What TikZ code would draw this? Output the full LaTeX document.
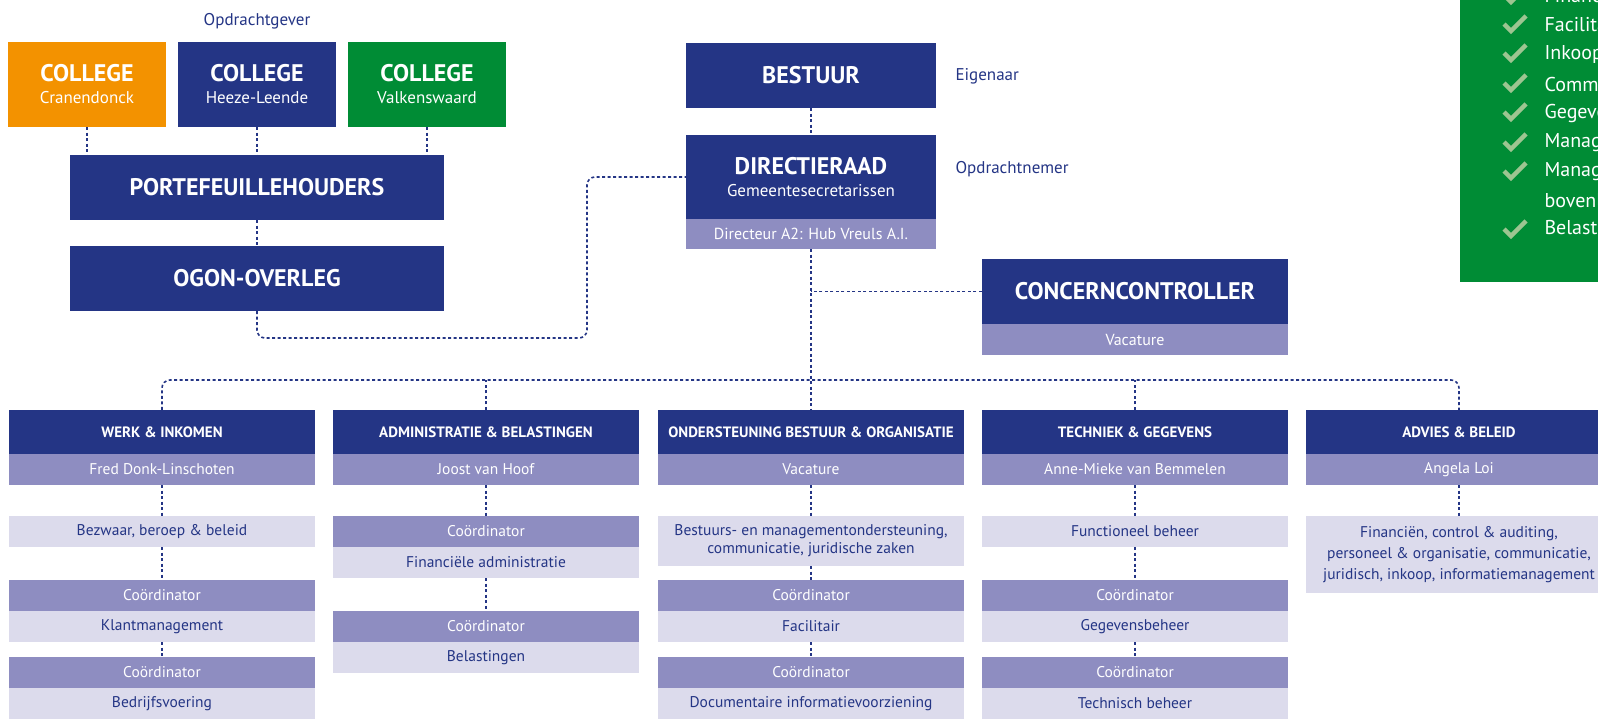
\documentclass[tikz,border=0pt]{standalone}
\usepackage{fontspec}
\setmainfont{PT Sans}
\usetikzlibrary{positioning}

\definecolor{navy}{HTML}{243585}
\definecolor{lilac}{HTML}{8E8DC1}
\definecolor{pale}{HTML}{DCDBEC}
\definecolor{oranje}{HTML}{F39200}
\definecolor{groen}{HTML}{008C35}
\definecolor{vink}{HTML}{9DC591}

\begin{document}
\begin{tikzpicture}[x=1pt,y=-1pt,
  big/.style={rectangle,inner sep=0pt,align=center,text=white,minimum height=65pt},
  bigfont/.style={font=\bfseries\fontsize{24}{26}\selectfont},
  twoline/.style={big,font=\fontsize{17}{22}\selectfont},
  side/.style={anchor=west,text=navy,font=\fontsize{17}{19}\selectfont},
  colbox/.style={rectangle,inner sep=0pt,align=center,minimum width=306pt},
  colhead/.style={colbox,fill=navy,text=white,minimum height=44pt,font=\bfseries\fontsize{15}{17}\selectfont},
  person/.style={colbox,fill=lilac,text=white,minimum height=31pt,font=\fontsize{15.5}{18}\selectfont},
  dept/.style={colbox,fill=pale,text=navy,minimum height=31pt,font=\fontsize{15.5}{18}\selectfont},
  link/.style={navy,line width=1.6pt,dash pattern=on 3pt off 2.5pt},
  vinkje/.pic={\draw[vink,line width=4.5pt] (-11,-1) -- (-4,6) -- (11,-9);},
  item/.style={anchor=west,text=white,font=\fontsize{20}{22}\selectfont}]
\useasboundingbox (0,0) rectangle (1598,718);
\clip (0,0) rectangle (1598,718);

% opdrachtgever
\node[text=navy,font=\fontsize{17}{19}\selectfont] (gever) at (257,21) {Opdrachtgever};
\node[twoline,fill=oranje,minimum width=158pt,minimum height=85pt] (cran) at (87,84.5)
  {{\bfseries\fontsize{24}{26}\selectfont COLLEGE}\\Cranendonck};
\node[twoline,fill=navy,minimum width=158pt,minimum height=85pt] (heeze) at (257,84.5)
  {{\bfseries\fontsize{24}{26}\selectfont COLLEGE}\\Heeze-Leende};
\node[twoline,fill=groen,minimum width=158pt,minimum height=85pt] (valk) at (427,84.5)
  {{\bfseries\fontsize{24}{26}\selectfont COLLEGE}\\Valkenswaard};
\node[big,bigfont,fill=navy,minimum width=374pt] (porte) at (257,187.5) {PORTEFEUILLEHOUDERS};
\node[big,bigfont,fill=navy,minimum width=374pt] (ogon) at (257,278.5) {OGON-OVERLEG};

% bestuur en directie
\node[big,bigfont,fill=navy,minimum width=250pt] (bestuur) at (811,75.5) {BESTUUR};
\node[twoline,fill=navy,minimum width=250pt,minimum height=84pt] (dir) at (811,177)
  {{\bfseries\fontsize{24}{26}\selectfont DIRECTIERAAD}\\Gemeentesecretarissen};
\node[person,minimum width=250pt,minimum height=30pt,font=\fontsize{16}{18}\selectfont] (dirname) at (811,234) {Directeur A2: Hub Vreuls A.I.};
\node[side] (eigenaar) at (952,76) {Eigenaar};
\node[side] (nemer) at (952,169) {Opdrachtnemer};
\node[big,bigfont,fill=navy,minimum width=306pt] (concern) at (1135,291.5) {CONCERNCONTROLLER};
\node[person,font=\fontsize{16}{18}\selectfont] (concernname) at (1135,339.5) {Vacature};

% groen kader
\fill[groen] (1460,-10) rectangle (1620,282);
\pic at (1515,-4) {vinkje};
\node[item] (l1) at (1541,-4) {Financiën};
\pic at (1515,25) {vinkje};
\node[item] (l2) at (1541,25) {Facilitair};
\pic at (1515,54) {vinkje};
\node[item] (l3) at (1541,54) {Inkoop};
\pic at (1515,84) {vinkje};
\node[item] (l4) at (1541,84) {Communicatie};
\pic at (1515,113) {vinkje};
\node[item] (l5) at (1541,113) {Gegevensbeheer};
\pic at (1515,143) {vinkje};
\node[item] (l6) at (1541,143) {Management};
\pic at (1515,172) {vinkje};
\node[item] (l7) at (1541,172) {Management};
\node[item] (l8) at (1541,201) {bovenlokaal};
\pic at (1515,230) {vinkje};
\node[item] (l9) at (1541,230) {Belastingen};

% werk en inkomen
\node[colhead] (wiHead) at (162,432) {WERK \& INKOMEN};
\node[person] (wiName) at (162,469.5) {Fred Donk-Linschoten};
\node[dept] (wiBez) at (162,531.5) {Bezwaar, beroep \& beleid};
\node[person] (wiCoA) at (162,595.5) {Coördinator};
\node[dept] (wiKlant) at (162,626.5) {Klantmanagement};
\node[person] (wiCoB) at (162,672.5) {Coördinator};
\node[dept] (wiBedr) at (162,703.5) {Bedrijfsvoering};

% administratie en belastingen
\node[colhead] (abHead) at (486,432) {ADMINISTRATIE \& BELASTINGEN};
\node[person] (abName) at (486,469.5) {Joost van Hoof};
\node[person] (abCoA) at (486,531.5) {Coördinator};
\node[dept] (abFin) at (486,562.5) {Financiële administratie};
\node[person] (abCoB) at (486,626.5) {Coördinator};
\node[dept] (abBel) at (486,657.5) {Belastingen};

% ondersteuning bestuur en organisatie
\node[colhead] (obHead) at (811,432) {ONDERSTEUNING BESTUUR \& ORGANISATIE};
\node[person] (obName) at (811,469.5) {Vacature};
\node[dept,minimum height=50pt] (obBest) at (811,541) {Bestuurs- en managementondersteuning,\\communicatie, juridische zaken};
\node[person] (obCoA) at (811,595.5) {Coördinator};
\node[dept] (obFac) at (811,626.5) {Facilitair};
\node[person] (obCoB) at (811,672.5) {Coördinator};
\node[dept] (obDoc) at (811,703.5) {Documentaire informatievoorziening};

% techniek en gegevens
\node[colhead] (tgHead) at (1135,432) {TECHNIEK \& GEGEVENS};
\node[person] (tgName) at (1135,469.5) {Anne-Mieke van Bemmelen};
\node[dept] (tgFunc) at (1135,531.5) {Functioneel beheer};
\node[person] (tgCoA) at (1135,595.5) {Coördinator};
\node[dept] (tgGeg) at (1135,626.5) {Gegevensbeheer};
\node[person] (tgCoB) at (1135,672.5) {Coördinator};
\node[dept] (tgTech) at (1135,703.5) {Technisch beheer};

% advies en beleid
\node[colhead] (adHead) at (1459,432) {ADVIES \& BELEID};
\node[person] (adName) at (1459,469.5) {Angela Loi};
\node[dept,minimum height=77pt,font=\fontsize{15.5}{21}\selectfont] (adFin) at (1459,554.5) {Financiën, control \& auditing,\\personeel \& organisatie, communicatie,\\juridisch, inkoop, informatiemanagement};

% lijnen
\draw[link] (cran) -- (cran |- porte.north);
\draw[link] (heeze) -- (heeze |- porte.north);
\draw[link] (valk) -- (valk |- porte.north);
\draw[link] (porte) -- (ogon);
\coordinate (ogbend) at (587,338);
\draw[link,rounded corners=8pt] (ogon.south) |- (ogbend) |- (dir.west);
\draw[link] (bestuur) -- (dir);
\draw[link] (dirname) -- (obHead);
\draw[link] (concern.west) -- (concern.west -| dirname.south);
\coordinate (bus) at (811,380);
\draw[link,rounded corners=8pt] (wiHead.north) |- (bus) -| (adHead.north);
\draw[link] (abHead.north) -- (abHead.north |- bus);
\draw[link] (tgHead.north) -- (tgHead.north |- bus);
\draw[link] (wiName) -- (wiBez);
\draw[link] (wiBez) -- (wiCoA);
\draw[link] (wiKlant) -- (wiCoB);
\draw[link] (abName) -- (abCoA);
\draw[link] (abFin) -- (abCoB);
\draw[link] (obName) -- (obBest);
\draw[link] (obBest) -- (obCoA);
\draw[link] (obFac) -- (obCoB);
\draw[link] (tgName) -- (tgFunc);
\draw[link] (tgFunc) -- (tgCoA);
\draw[link] (tgGeg) -- (tgCoB);
\draw[link] (adName) -- (adFin);
\end{tikzpicture}
\end{document}
